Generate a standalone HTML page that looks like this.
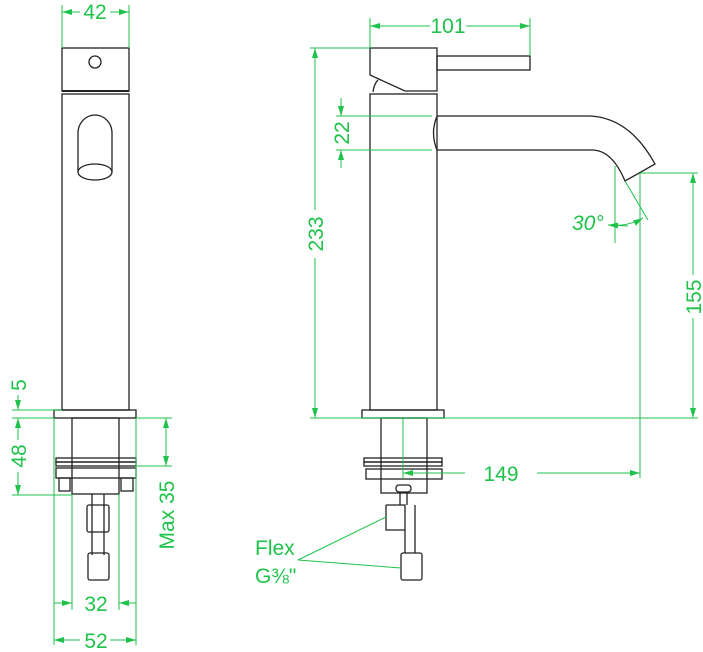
<!DOCTYPE html>
<html><head><meta charset="utf-8"><style>
html,body{margin:0;padding:0;background:#fff;}
svg{display:block;}
text{font-family:"Liberation Sans",sans-serif;fill:#1fc24a;font-size:21px;}
</style></head><body>
<svg width="703" height="652" viewBox="0 0 703 652" xmlns="http://www.w3.org/2000/svg">
<defs>
<marker id="a" viewBox="0 0 10 6" refX="10" refY="3" markerWidth="10" markerHeight="6" orient="auto-start-reverse" markerUnits="userSpaceOnUse"><path d="M0,0 L10,3 L0,6 z" fill="#1fc24a"/></marker>
</defs>
<g fill="none" stroke="#222" stroke-width="1.3">
<rect x="62" y="48" width="67" height="43"/>
<line x1="62" y1="91" x2="129" y2="91" stroke-width="2"/>
<rect x="62" y="94" width="67" height="316"/>
<circle cx="95" cy="62" r="6"/>
<path d="M78,172 L78,133 A17,18 0 0 1 112,133 L112,172"/>
<ellipse cx="95" cy="172" rx="17" ry="8"/>
<rect x="54" y="410" width="82" height="8"/>
<rect x="72" y="418" width="47" height="76"/>
<rect x="56" y="458" width="80" height="4"/><rect x="56" y="462" width="80" height="4"/>
<rect x="56" y="468" width="80" height="10"/>
<rect x="59" y="478" width="11" height="13"/><rect x="121" y="478" width="12" height="13"/>
<line x1="92" y1="494" x2="92" y2="555"/><line x1="104" y1="494" x2="104" y2="555"/>
<rect x="87" y="505" width="22" height="27" rx="2"/>
<rect x="88" y="553" width="21" height="27" rx="2"/>
<path d="M370,48 L437,48 L437,91 L405,91 L370,75 Z"/>
<path d="M373,92 Q374,84 378,80"/>
<rect x="437" y="56" width="93" height="14"/>
<rect x="370" y="94" width="67" height="316"/>
<path d="M437,116 L590,116 Q630,118 655,164 L625,181 Q612,150 592,150 L437,150 Q430,133 437,116"/>
<rect x="362" y="410" width="82" height="8"/>
<rect x="381" y="418" width="46" height="75"/>
<rect x="364" y="458" width="78" height="4"/><rect x="364" y="462" width="78" height="4"/>
<rect x="366" y="469" width="76" height="10"/>
<rect x="396" y="485" width="15" height="7" rx="3"/>
<line x1="400" y1="493" x2="400" y2="505"/><line x1="407" y1="493" x2="407" y2="505"/>
<path d="M386,505 L405,505 L405,553 M386,505 L386,530 L405,530 M415,505 L415,553"/>
<rect x="401" y="553" width="21" height="27" rx="2"/>
</g>
<g fill="none" stroke="#1fc24a" stroke-width="1">
<line x1="62" y1="5" x2="62" y2="48"/><line x1="129" y1="5" x2="129" y2="48"/>
<line x1="62" y1="12" x2="80" y2="12" marker-start="url(#a)"/><line x1="110" y1="12" x2="129" y2="12" marker-end="url(#a)"/>
<line x1="12" y1="410" x2="62" y2="410"/><line x1="12" y1="418" x2="54" y2="418"/><line x1="12" y1="495" x2="72" y2="495"/>
<line x1="18" y1="395" x2="18" y2="410" marker-end="url(#a)"/>
<line x1="18" y1="418" x2="18" y2="440" marker-start="url(#a)"/><line x1="18" y1="472" x2="18" y2="495" marker-end="url(#a)"/>
<line x1="136" y1="418" x2="172" y2="418"/><line x1="136" y1="466" x2="172" y2="466"/>
<line x1="166" y1="418" x2="166" y2="466" marker-start="url(#a)" marker-end="url(#a)"/>
<line x1="54" y1="418" x2="54" y2="645"/><line x1="136" y1="418" x2="136" y2="645"/>
<line x1="72" y1="494" x2="72" y2="610"/><line x1="119" y1="494" x2="119" y2="610"/>
<line x1="54" y1="603" x2="72" y2="603" marker-end="url(#a)"/><line x1="119" y1="603" x2="136" y2="603" marker-start="url(#a)"/>
<line x1="54" y1="640" x2="80" y2="640" marker-start="url(#a)"/><line x1="110" y1="640" x2="136" y2="640" marker-end="url(#a)"/>
<line x1="370" y1="18" x2="370" y2="48"/><line x1="530" y1="18" x2="530" y2="56"/>
<line x1="370" y1="26" x2="430" y2="26" marker-start="url(#a)"/><line x1="466" y1="26" x2="530" y2="26" marker-end="url(#a)"/>
<line x1="310" y1="48" x2="370" y2="48"/><line x1="310" y1="418" x2="698" y2="418"/>
<line x1="315" y1="48" x2="315" y2="210" marker-start="url(#a)"/><line x1="315" y1="258" x2="315" y2="418" marker-end="url(#a)"/>
<line x1="336" y1="116" x2="432" y2="116"/><line x1="336" y1="150" x2="432" y2="150"/>
<line x1="341" y1="98" x2="341" y2="116" marker-end="url(#a)"/><line x1="341" y1="150" x2="341" y2="168" marker-start="url(#a)"/>
<line x1="615" y1="166" x2="615" y2="243"/>
<line x1="640" y1="173" x2="640" y2="478"/>
<line x1="640" y1="173" x2="698" y2="173"/>
<line x1="693" y1="173" x2="693" y2="275" marker-start="url(#a)"/><line x1="693" y1="318" x2="693" y2="418" marker-end="url(#a)"/>
<line x1="625" y1="181" x2="648" y2="220"/>
<path d="M608,225 Q628,227 643,218" marker-end="url(#a)"/>
<line x1="608" y1="225" x2="628" y2="226" marker-start="url(#a)"/>
<line x1="403" y1="418" x2="403" y2="478"/>
<line x1="403" y1="473" x2="465" y2="473" marker-start="url(#a)"/><line x1="537" y1="473" x2="640" y2="473" marker-end="url(#a)"/>
<line x1="298" y1="560" x2="386" y2="517"/><line x1="298" y1="560" x2="401" y2="568"/>
</g>
<g>
<text x="95" y="19" text-anchor="middle">42</text>
<text x="448" y="33" text-anchor="middle">101</text>
<text transform="translate(26,385) rotate(-90)" text-anchor="middle">5</text>
<text transform="translate(26,456) rotate(-90)" text-anchor="middle">48</text>
<text transform="translate(174,515) rotate(-90)" text-anchor="middle">Max 35</text>
<text x="96" y="611" text-anchor="middle">32</text>
<text x="96" y="648" text-anchor="middle">52</text>
<text transform="translate(323,234) rotate(-90)" text-anchor="middle">233</text>
<text transform="translate(349,133) rotate(-90)" text-anchor="middle">22</text>
<text transform="translate(701,297) rotate(-90)" text-anchor="middle">155</text>
<text x="501" y="481" text-anchor="middle">149</text>
<text x="572" y="230" font-style="italic">30°</text>
<text x="255" y="555">Flex</text>
<text x="255" y="583">G⅜"</text>
</g>
</svg>
</body></html>
